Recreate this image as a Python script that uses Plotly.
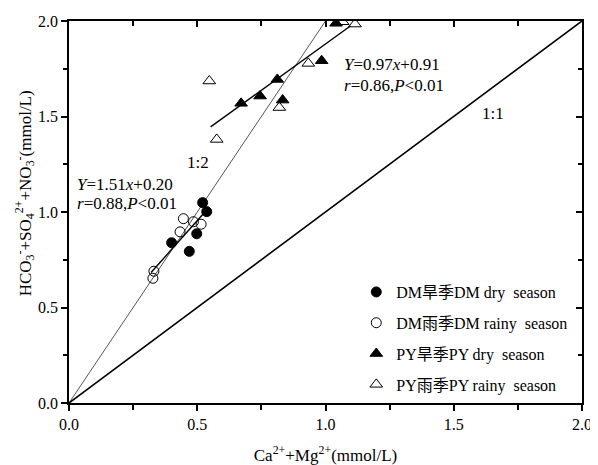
import plotly.graph_objects as go

# ---- data ----
dm_dry_x = [0.400, 0.469, 0.498, 0.521, 0.537]
dm_dry_y = [0.839, 0.794, 0.886, 1.049, 1.002]

dm_rainy_x = [0.327, 0.331, 0.433, 0.446, 0.485, 0.515]
dm_rainy_y = [0.653, 0.690, 0.896, 0.965, 0.949, 0.936]

py_dry_x = [0.671, 0.745, 0.812, 0.833, 0.985, 1.041]
py_dry_y = [1.569, 1.607, 1.694, 1.586, 1.792, 1.988]

py_rainy_x = [0.547, 0.576, 0.820, 0.933, 1.067, 1.115]
py_rainy_y = [1.686, 1.380, 1.547, 1.778, 1.996, 1.984]

line11_x = [0.0, 2.0]
line11_y = [0.0, 2.0]
line12_x = [0.0, 1.0]
line12_y = [0.0, 2.0]
dm_fit_x = [0.32, 0.535]
dm_fit_slope, dm_fit_int = 1.51, 0.20
py_fit_x = [0.552, 1.097]
py_fit_slope, py_fit_int = 0.97, 0.91

tick_vals = [0.0, 0.5, 1.0, 1.5, 2.0]
tick_text = ["0.0", "0.5", "1.0", "1.5", "2.0"]

legend_names = ["DM旱季DM dry\u00a0 season", "DM雨季DM rainy\u00a0 season",
                "PY旱季PY dry\u00a0 season", "PY雨季PY rainy\u00a0 season"]

SERIF = "Liberation Serif, Noto Sans CJK SC, serif"

fig = go.Figure()

# reference lines (1:1 line placed on the mirrored axes so they get drawn)
fig.add_trace(go.Scatter(x=line11_x, y=line11_y, mode="lines", xaxis="x2", yaxis="y2",
                         line=dict(color="black", width=1.6), showlegend=False, hoverinfo="skip"))
fig.add_trace(go.Scatter(x=line12_x, y=line12_y, mode="lines",
                         line=dict(color="#555555", width=1), showlegend=False, hoverinfo="skip"))
fig.add_trace(go.Scatter(x=dm_fit_x, y=[dm_fit_slope * v + dm_fit_int for v in dm_fit_x], mode="lines",
                         line=dict(color="black", width=1.4), showlegend=False, hoverinfo="skip"))
fig.add_trace(go.Scatter(x=py_fit_x, y=[py_fit_slope * v + py_fit_int for v in py_fit_x], mode="lines",
                         line=dict(color="black", width=1.4), showlegend=False, hoverinfo="skip"))

# data series
fig.add_trace(go.Scatter(x=dm_dry_x, y=dm_dry_y, mode="markers", name=legend_names[0], legendgroup="a",
                         marker=dict(symbol="circle", size=10, color="black",
                                     line=dict(color="black", width=1))))
fig.add_trace(go.Scatter(x=dm_rainy_x, y=dm_rainy_y, mode="markers", name=legend_names[1], legendgroup="b",
                         marker=dict(symbol="circle-open", size=10, color="black",
                                     line=dict(color="black", width=1))))
fig.add_trace(go.Scatter(x=py_dry_x, y=py_dry_y, mode="markers", name=legend_names[2], legendgroup="c",
                         marker=dict(symbol="triangle-up", size=11, color="black",
                                     line=dict(color="black", width=1))))
fig.add_trace(go.Scatter(x=py_rainy_x, y=py_rainy_y, mode="markers", name=legend_names[3], legendgroup="d",
                         marker=dict(symbol="triangle-up-open", size=11, color="black",
                                     line=dict(color="black", width=1))))

axis_common = dict(range=[0, 2], showgrid=False, zeroline=False, showline=True,
                   linecolor="black", linewidth=1.5, automargin=False)
tickfont = dict(family=SERIF, size=16, color="black")

# the page body has an 8px margin, so the figure is sized to fit the 598x465 window
fig.update_layout(
    width=590, height=457,
    margin=dict(l=61, r=16, t=13, b=62),
    plot_bgcolor="white", paper_bgcolor="white",
    font=dict(family=SERIF, size=15, color="black"),
    xaxis=dict(**axis_common, tickvals=tick_vals, ticktext=tick_text, ticks="outside",
               ticklen=6, tickwidth=1.5, tickcolor="black",
               minor=dict(dtick=0.25, ticks="outside", ticklen=5, tickwidth=1.5, tickcolor="black"),
               tickfont=tickfont,
               title=dict(text="Ca<sup>2+</sup>+Mg<sup>2+</sup>(mmol/L)",
                          font=dict(family=SERIF, size=17), standoff=22)),
    yaxis=dict(**axis_common, tickvals=tick_vals, ticktext=tick_text, ticks="outside",
               ticklen=6, tickwidth=1.5, tickcolor="black",
               minor=dict(dtick=0.25, ticks="outside", ticklen=4, tickwidth=1.5, tickcolor="black"),
               tickfont=tickfont),
    xaxis2=dict(**axis_common, overlaying="x", side="top", tickvals=tick_vals,
                showticklabels=False, ticks="inside", ticklen=6, tickwidth=1.5, tickcolor="black",
                minor=dict(dtick=0.25, ticks="inside", ticklen=5, tickwidth=1.5, tickcolor="black")),
    yaxis2=dict(**axis_common, overlaying="y", side="right", tickvals=tick_vals,
                showticklabels=False, ticks="inside", ticklen=6, tickwidth=1.5, tickcolor="black",
                minor=dict(dtick=0.25, ticks="inside", ticklen=4, tickwidth=1.5, tickcolor="black")),
    legend=dict(x=0.56, y=0.335, xanchor="left", yanchor="top", bgcolor="rgba(0,0,0,0)",
                font=dict(family=SERIF, size=16), tracegroupgap=7, itemwidth=30),
    showlegend=True,
)

ann_font = dict(family=SERIF, size=17, color="black")
annotations = [
    dict(x=0.022, y=1.143, text="<i>Y</i>=1.51<i>x</i>+0.20"),
    dict(x=0.022, y=1.045, text="<i>r</i>=0.88,<i>P</i><0.01"),
    dict(x=0.452, y=1.257, text="1:2"),
    dict(x=1.064, y=1.772, text="<i>Y</i>=0.97<i>x</i>+0.91"),
    dict(x=1.064, y=1.663, text="<i>r</i>=0.86,<i>P</i><0.01"),
    dict(x=1.602, y=1.518, text="1:1"),
]
for a in annotations:
    fig.add_annotation(x=a["x"], y=a["y"], text=a["text"], xref="x", yref="y",
                       xanchor="left", yanchor="middle", showarrow=False, font=ann_font)

# y-axis title as a rotated annotation (placed like the reference)
fig.add_annotation(
    x=-0.085, y=0.55, xref="paper", yref="paper", textangle=-90,
    text="HCO<sub>3</sub><sup>-</sup>+SO<sub>4</sub><sup>2+</sup>+NO<sub>3</sub><sup>-</sup>(mmol/L)",
    showarrow=False, xanchor="center", yanchor="middle", font=dict(family=SERIF, size=17, color="black"))

fig.write_html("out.html")
